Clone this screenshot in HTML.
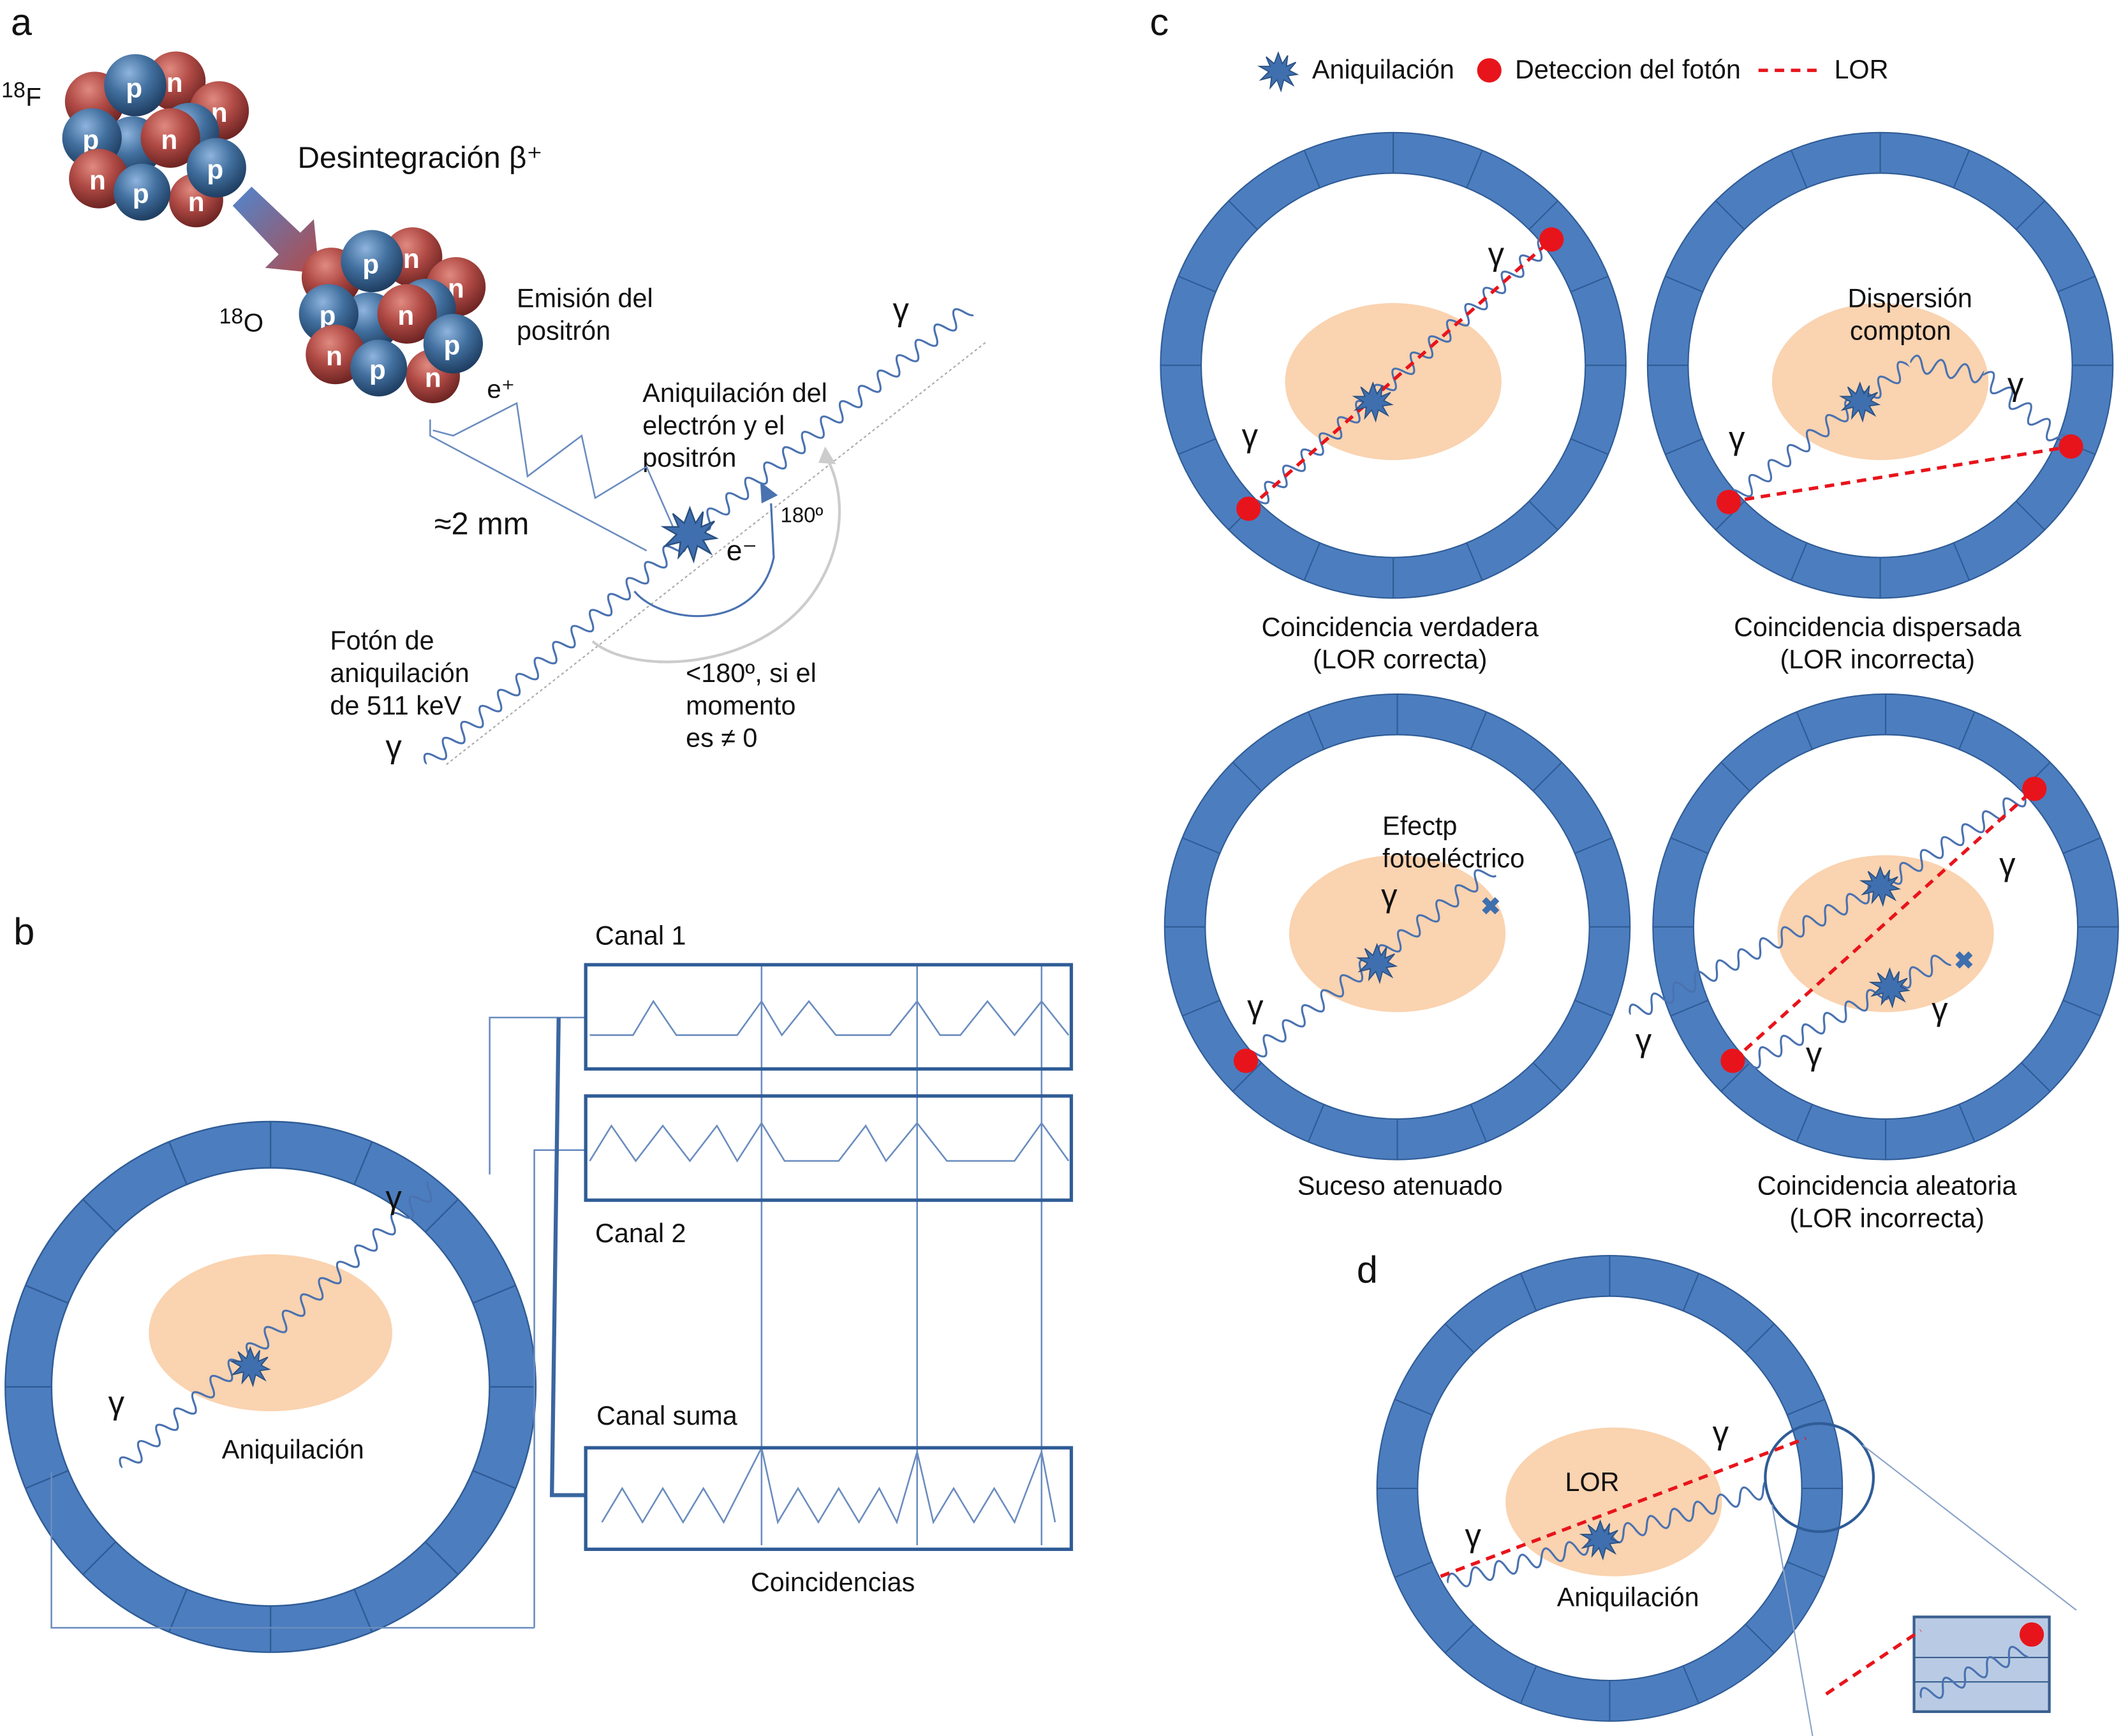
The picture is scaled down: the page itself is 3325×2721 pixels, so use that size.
<!DOCTYPE html>
<html><head><meta charset="utf-8"><style>
html,body{margin:0;padding:0;background:#fff}
svg{display:block}
text{font-family:"Liberation Sans",sans-serif;fill:#111}
</style></head><body>
<svg xmlns="http://www.w3.org/2000/svg" xmlns:xlink="http://www.w3.org/1999/xlink" width="3325" height="2721" viewBox="0 0 1568 1283" preserveAspectRatio="none">
<defs>
<radialGradient id="gr" cx="0.4" cy="0.3" r="0.7"><stop offset="0" stop-color="#e08a80"/><stop offset="0.5" stop-color="#b04a45"/><stop offset="1" stop-color="#6e2523"/></radialGradient>
<radialGradient id="gb" cx="0.4" cy="0.3" r="0.7"><stop offset="0" stop-color="#8fb4de"/><stop offset="0.5" stop-color="#42709f"/><stop offset="1" stop-color="#1f3e62"/></radialGradient>
<linearGradient id="ga" x1="0" y1="0" x2="1" y2="1"><stop offset="0" stop-color="#4f86cf"/><stop offset="1" stop-color="#b24a4a"/></linearGradient>
<path id="w" fill="none" stroke="#4a72b0" stroke-width="1.5" d="M0 0 q4.5 -12 9 0 t9 0 t9 0 t9 0 t9 0 t9 0 t9 0 t9 0 t9 0 t9 0 t9 0 t9 0 t9 0 t9 0 t9 0 t9 0 t9 0 t9 0 t9 0 t9 0 t9 0 t9 0 t9 0 t9 0 t9 0 t9 0 t9 0 t9 0 t9 0 t9 0 t9 0 t9 0 t9 0 t9 0 t9 0 t9 0 t9 0 t9 0 t9 0 t9 0 t9 0 t9 0 t9 0 t9 0 t9 0 t9 0 t9 0 t9 0 t9 0 t9 0 t9 0 t9 0 t9 0 t9 0 t9 0 t9 0 t9 0 t9 0 t9 0 t9 0 t9 0 t9 0 t9 0 t9 0 t9 0"/>
<g id="ring">
<circle r="157" fill="none" stroke="#2f5c96" stroke-width="31"/>
<circle r="157" fill="none" stroke="#4c7dbf" stroke-width="29"/>
<g id="q" stroke="#2f5c96" stroke-width="1"><path d="M142 0L172 0M131.2 54.3L158.9 65.8M100.4 100.4L121.6 121.6M54.3 131.2L65.8 158.9"/></g>
<use xlink:href="#q" transform="rotate(90)"/><use xlink:href="#q" transform="rotate(180)"/><use xlink:href="#q" transform="rotate(270)"/>
</g>
<polygon id="star" fill="#3f6fae" stroke="#2a4f80" stroke-width="0.8" points="0,-14 3,-6 7,-12 6,-4 13,-7 8,-1 14,2 7,3 11,10 4,6 2,14 -1,6 -6,12 -5,4 -13,6 -7,0 -14,-4 -6,-4 -9,-11 -3,-6"/>
<g id="nuc">
<circle cx="70" cy="75" r="22" fill="url(#gr)"/>
<circle cx="130" cy="60" r="22" fill="url(#gr)"/><text x="123" y="68" font-size="20" font-weight="bold" style="fill:#fff">n</text>
<circle cx="162" cy="82" r="22" fill="url(#gr)"/><text x="156" y="90" font-size="20" font-weight="bold" style="fill:#fff">n</text>
<circle cx="140" cy="98" r="22" fill="url(#gb)"/>
<circle cx="100" cy="63" r="23" fill="url(#gb)"/><text x="93" y="72" font-size="20" font-weight="bold" style="fill:#fff">p</text>
<circle cx="98" cy="108" r="22" fill="url(#gb)"/>
<circle cx="68" cy="102" r="22" fill="url(#gb)"/><text x="61" y="110" font-size="20" font-weight="bold" style="fill:#fff">p</text>
<circle cx="126" cy="102" r="22" fill="url(#gr)"/><text x="119" y="110" font-size="20" font-weight="bold" style="fill:#fff">n</text>
<circle cx="145" cy="148" r="20" fill="url(#gr)"/><text x="139" y="156" font-size="20" font-weight="bold" style="fill:#fff">n</text>
<circle cx="73" cy="132" r="22" fill="url(#gr)"/><text x="66" y="140" font-size="20" font-weight="bold" style="fill:#fff">n</text>
<circle cx="105" cy="142" r="21" fill="url(#gb)"/><text x="98" y="150" font-size="20" font-weight="bold" style="fill:#fff">p</text>
<circle cx="160" cy="124" r="22" fill="url(#gb)"/><text x="153" y="132" font-size="20" font-weight="bold" style="fill:#fff">p</text>
</g>
</defs>

<!-- Panel a -->
<text x="8" y="26" font-size="28">a</text>
<text x="1" y="72" font-size="16">18</text><text x="19" y="78" font-size="19">F</text>
<use xlink:href="#nuc"/>
<polygon points="172,152 186,138 222,172 232,162 236,202 196,198 206,188" fill="url(#ga)"/>
<use xlink:href="#nuc" transform="translate(175,130)"/>
<text x="220" y="124" font-size="22.5">Desintegración β⁺</text>
<text x="162" y="239" font-size="16">18</text><text x="180" y="245" font-size="19">O</text>
<text x="382" y="227" font-size="19.5">Emisión del</text>
<text x="382" y="251" font-size="19.5">positrón</text>
<text x="360" y="294" font-size="19">e⁺</text>
<text x="475" y="297" font-size="19.5">Aniquilación del</text>
<text x="475" y="321" font-size="19.5">electrón y el</text>
<text x="475" y="345" font-size="19.5">positrón</text>
<text x="321" y="395" font-size="23">≈2 mm</text>
<text x="537" y="414" font-size="21">e⁻</text>
<text x="577" y="386" font-size="15.5">180º</text>
<text x="244" y="480" font-size="19.5">Fotón de</text>
<text x="244" y="504" font-size="19.5">aniquilación</text>
<text x="244" y="528" font-size="19.5">de 511 keV</text>
<text x="285" y="560" font-size="24" font-family="Liberation Serif">γ</text>
<text x="507" y="504" font-size="19.5">&lt;180º, si el</text>
<text x="507" y="528" font-size="19.5">momento</text>
<text x="507" y="552" font-size="19.5">es ≠ 0</text>
<text x="660" y="237" font-size="24" font-family="Liberation Serif">γ</text>
<line x1="330" y1="565" x2="730" y2="252" stroke="#aaa" stroke-width="1" stroke-dasharray="2,2"/>
<g transform="translate(315,565) rotate(-41)"><svg x="0" y="-9" width="258" height="18" overflow="hidden"><use xlink:href="#w" y="9"/></svg></g>
<g transform="translate(510,395) rotate(-39)"><svg x="0" y="-9" width="265" height="18" overflow="hidden"><use xlink:href="#w" y="9"/></svg></g>
<polyline points="320,318 335,322 382,298 390,352 430,322 440,368 478,345 500,395" fill="none" stroke="#6a8cbf" stroke-width="1.2"/>
<polyline points="318,310 318,322 478,407" fill="none" stroke="#6a8cbf" stroke-width="1.2"/>
<path d="M469 437 C490 462 560 468 572 412 L570 372" fill="none" stroke="#4a72b0" stroke-width="1.5"/>
<polygon points="562,356 575,366 563,372" fill="#4a72b0"/>
<path d="M438 474 C470 500 560 495 600 440 C625 405 625 365 612 340" fill="none" stroke="#ccc" stroke-width="2"/>
<polygon points="610,330 618,343 605,342" fill="#ccc"/>
<use xlink:href="#star" transform="translate(510,395) scale(1.4)"/>

<!-- Panel b -->
<text x="10" y="698" font-size="28">b</text>
<use xlink:href="#ring" transform="translate(200,1025) scale(1.14)"/>
<ellipse cx="200" cy="985" rx="90" ry="58" fill="#fad3b0"/>
<g transform="translate(90,1085) rotate(-42)"><svg x="0" y="-9" width="310" height="18" overflow="hidden"><use xlink:href="#w" y="9"/></svg></g>
<use xlink:href="#star" transform="translate(185,1010)"/>
<text x="80" y="1045" font-size="24" font-family="Liberation Serif">γ</text>
<text x="285" y="893" font-size="24" font-family="Liberation Serif">γ</text>
<text x="164" y="1078" font-size="19.5">Aniquilación</text>
<g fill="none" stroke="#6a8cbf" stroke-width="1.2">
<polyline points="362,868 362,752 433,752"/>
<polyline points="395,1203 395,850 433,850"/>
<polyline points="38,1088 38,1203 395,1203"/>
<line x1="563" y1="713" x2="563" y2="1142"/><line x1="678" y1="713" x2="678" y2="1142"/><line x1="770" y1="713" x2="770" y2="1142"/>
<polyline points="436,765 468,765 483,740 500,765 545,765 563,740 578,765 598,740 618,765 658,765 678,740 695,765 710,765 730,740 750,765 770,740 790,765"/>
<polyline points="436,858 452,832 470,858 490,832 510,858 530,832 545,858 563,830 580,858 620,858 640,832 655,858 678,830 700,858 750,858 770,830 790,858"/>
<polyline points="445,1125 460,1100 475,1125 490,1100 505,1125 520,1100 535,1125 563,1070 575,1125 590,1100 605,1125 620,1100 635,1125 650,1100 663,1125 678,1073 690,1125 705,1100 720,1125 735,1100 750,1125 770,1073 780,1125"/>
</g>
<polyline points="413,752 408,1105 433,1105" fill="none" stroke="#3a66a0" stroke-width="3"/>
<g fill="none" stroke="#2f5c96" stroke-width="2.5">
<rect x="433" y="713" width="359" height="77"/><rect x="433" y="810" width="359" height="77"/><rect x="433" y="1070" width="359" height="75"/>
</g>
<text x="440" y="698" font-size="19.5">Canal 1</text>
<text x="440" y="918" font-size="19.5">Canal 2</text>
<text x="441" y="1053" font-size="19.5">Canal suma</text>
<text x="555" y="1176" font-size="19.5">Coincidencias</text>

<!-- Panel c -->
<text x="850" y="26" font-size="28">c</text>
<use xlink:href="#star" transform="translate(945,53)"/>
<text x="970" y="58" font-size="19.5">Aniquilación</text>
<circle cx="1101" cy="52" r="9" fill="#e8141b"/>
<text x="1120" y="58" font-size="19.5">Deteccion del fotón</text>
<line x1="1300" y1="52" x2="1345" y2="52" stroke="#e8141b" stroke-width="2.5" stroke-dasharray="7,5"/>
<text x="1356" y="58" font-size="19.5">LOR</text>

<use xlink:href="#ring" transform="translate(1030,270)"/>
<ellipse cx="1030" cy="282" rx="80" ry="58" fill="#fad3b0"/>
<g transform="translate(923,376) rotate(-41.6)"><svg x="0" y="-9" width="300" height="18" overflow="hidden"><use xlink:href="#w" y="9"/></svg></g>
<line x1="923" y1="376" x2="1147" y2="177" stroke="#e8141b" stroke-width="2.5" stroke-dasharray="7,5"/>
<circle cx="923" cy="376" r="9" fill="#e8141b"/><circle cx="1147" cy="177" r="9" fill="#e8141b"/>
<use xlink:href="#star" transform="translate(1015,297)"/>
<text x="918" y="330" font-size="24" font-family="Liberation Serif">γ</text>
<text x="1100" y="196" font-size="24" font-family="Liberation Serif">γ</text>
<text x="1035" y="470" font-size="19.5" text-anchor="middle">Coincidencia verdadera</text>
<text x="1035" y="494" font-size="19.5" text-anchor="middle">(LOR correcta)</text>

<use xlink:href="#ring" transform="translate(1390,270)"/>
<ellipse cx="1390" cy="282" rx="80" ry="58" fill="#fad3b0"/>
<g transform="translate(1280,370) rotate(-38)"><svg x="0" y="-9" width="120" height="18" overflow="hidden"><use xlink:href="#w" y="9"/></svg></g>
<g transform="translate(1375,297) rotate(-37)"><svg x="0" y="-9" width="45" height="18" overflow="hidden"><use xlink:href="#w" y="9"/></svg></g>
<g transform="translate(1412,268) rotate(10)"><svg x="0" y="-9" width="55" height="18" overflow="hidden"><use xlink:href="#w" y="9"/></svg></g>
<g transform="translate(1466,277) rotate(40)"><svg x="0" y="-9" width="75" height="18" overflow="hidden"><use xlink:href="#w" y="9"/></svg></g>
<line x1="1278" y1="371" x2="1531" y2="330" stroke="#e8141b" stroke-width="2.5" stroke-dasharray="7,5"/>
<circle cx="1278" cy="371" r="9" fill="#e8141b"/><circle cx="1531" cy="330" r="9" fill="#e8141b"/>
<use xlink:href="#star" transform="translate(1375,297)"/>
<text x="1278" y="332" font-size="24" font-family="Liberation Serif">γ</text>
<text x="1484" y="292" font-size="24" font-family="Liberation Serif">γ</text>
<text x="1412" y="227" font-size="19.5" text-anchor="middle">Dispersión</text>
<text x="1405" y="251" font-size="19.5" text-anchor="middle">compton</text>
<text x="1388" y="470" font-size="19.5" text-anchor="middle">Coincidencia dispersada</text>
<text x="1388" y="494" font-size="19.5" text-anchor="middle">(LOR incorrecta)</text>

<use xlink:href="#ring" transform="translate(1033,685)"/>
<ellipse cx="1033" cy="690" rx="80" ry="58" fill="#fad3b0"/>
<g transform="translate(921,784) rotate(-38)"><svg x="0" y="-9" width="230" height="18" overflow="hidden"><use xlink:href="#w" y="9"/></svg></g>
<circle cx="921" cy="784" r="9" fill="#e8141b"/>
<use xlink:href="#star" transform="translate(1018,712)"/>
<text x="1102" y="676" font-size="18" font-weight="bold" text-anchor="middle" style="fill:#3f6fae">✖</text>
<text x="922" y="752" font-size="24" font-family="Liberation Serif">γ</text>
<text x="1021" y="670" font-size="24" font-family="Liberation Serif">γ</text>
<text x="1022" y="617" font-size="19.5">Efectp</text>
<text x="1022" y="641" font-size="19.5">fotoeléctrico</text>
<text x="1035" y="883" font-size="19.5" text-anchor="middle">Suceso atenuado</text>

<use xlink:href="#ring" transform="translate(1394,685)"/>
<ellipse cx="1394" cy="690" rx="80" ry="58" fill="#fad3b0"/>
<g transform="translate(1205,750) rotate(-27)"><svg x="0" y="-9" width="210" height="18" overflow="hidden"><use xlink:href="#w" y="9"/></svg></g>
<g transform="translate(1390,655) rotate(-32)"><svg x="0" y="-9" width="135" height="18" overflow="hidden"><use xlink:href="#w" y="9"/></svg></g>
<g transform="translate(1285,790) rotate(-28)"><svg x="0" y="-9" width="175" height="18" overflow="hidden"><use xlink:href="#w" y="9"/></svg></g>
<line x1="1281" y1="784" x2="1504" y2="583" stroke="#e8141b" stroke-width="2.5" stroke-dasharray="7,5"/>
<circle cx="1281" cy="784" r="9" fill="#e8141b"/><circle cx="1504" cy="583" r="9" fill="#e8141b"/>
<use xlink:href="#star" transform="translate(1390,655)"/>
<use xlink:href="#star" transform="translate(1397,730)"/>
<text x="1452" y="716" font-size="18" font-weight="bold" text-anchor="middle" style="fill:#3f6fae">✖</text>
<text x="1209" y="777" font-size="24" font-family="Liberation Serif">γ</text>
<text x="1478" y="647" font-size="24" font-family="Liberation Serif">γ</text>
<text x="1428" y="754" font-size="24" font-family="Liberation Serif">γ</text>
<text x="1335" y="787" font-size="24" font-family="Liberation Serif">γ</text>
<text x="1395" y="883" font-size="19.5" text-anchor="middle">Coincidencia aleatoria</text>
<text x="1395" y="907" font-size="19.5" text-anchor="middle">(LOR incorrecta)</text>

<!-- Panel d -->
<text x="1003" y="948" font-size="28">d</text>
<use xlink:href="#ring" transform="translate(1190,1100)"/>
<ellipse cx="1193" cy="1110" rx="80" ry="55" fill="#fad3b0"/>
<g transform="translate(1070,1170) rotate(-15)"><svg x="0" y="-9" width="118" height="18" overflow="hidden"><use xlink:href="#w" y="9"/></svg></g>
<g transform="translate(1183,1138) rotate(-17)"><svg x="0" y="-9" width="130" height="18" overflow="hidden"><use xlink:href="#w" y="9"/></svg></g>
<line x1="1065" y1="1165" x2="1335" y2="1063" stroke="#e8141b" stroke-width="2.5" stroke-dasharray="7,5"/>
<use xlink:href="#star" transform="translate(1183,1138)"/>
<text x="1083" y="1143" font-size="24" font-family="Liberation Serif">γ</text>
<text x="1266" y="1067" font-size="24" font-family="Liberation Serif">γ</text>
<text x="1157" y="1102" font-size="19.5">LOR</text>
<text x="1151" y="1187" font-size="19.5">Aniquilación</text>
<circle cx="1345" cy="1092" r="40" fill="none" stroke="#2f5c96" stroke-width="2"/>
<line x1="1377" y1="1068" x2="1535" y2="1190" stroke="#8aa4c8" stroke-width="1"/>
<line x1="1310" y1="1112" x2="1340" y2="1283" stroke="#8aa4c8" stroke-width="1"/>
<rect x="1415" y="1195" width="100" height="70" fill="#b9cbe4" stroke="#3a5f8f" stroke-width="2"/>
<line x1="1415" y1="1225" x2="1515" y2="1225" stroke="#3a5f8f" stroke-width="1"/>
<line x1="1415" y1="1243" x2="1515" y2="1243" stroke="#3a5f8f" stroke-width="1"/>
<g transform="translate(1420,1255) rotate(-25)"><svg x="0" y="-9" width="85" height="18" overflow="hidden"><use xlink:href="#w" y="9"/></svg></g>
<line x1="1350" y1="1252" x2="1420" y2="1205" stroke="#e8141b" stroke-width="2.5" stroke-dasharray="7,5"/>
<circle cx="1502" cy="1208" r="9" fill="#e8141b"/>
</svg>
</body></html>
